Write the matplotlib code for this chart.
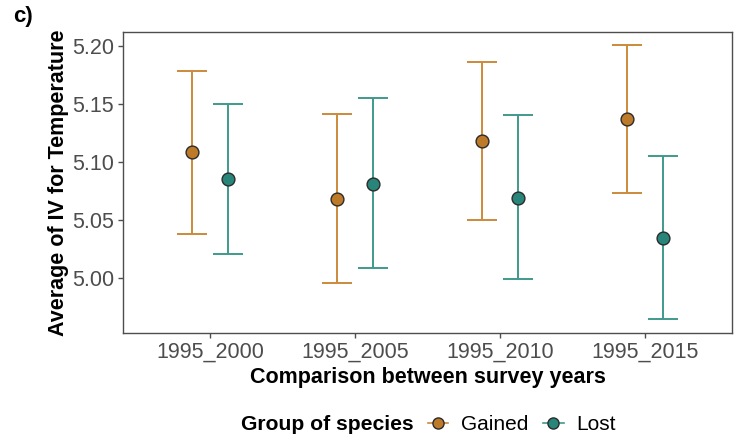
import matplotlib
matplotlib.use("Agg")
import matplotlib.pyplot as plt
from matplotlib.lines import Line2D
from matplotlib.offsetbox import HPacker
import numpy as np

plt.rcParams['font.family'] = ['Liberation Sans', 'DejaVu Sans']

categories = ["1995_2000", "1995_2005", "1995_2010", "1995_2015"]
groups = ["Gained", "Lost"]
gained_mean = [5.108, 5.068, 5.118, 5.137]
gained_low = [5.038, 4.995, 5.050, 5.073]
gained_high = [5.178, 5.141, 5.186, 5.201]
lost_mean = [5.085, 5.081, 5.069, 5.034]
lost_low = [5.020, 5.008, 4.999, 4.964]
lost_high = [5.150, 5.155, 5.140, 5.105]

line_colors = {"Gained": "#CC8A3C", "Lost": "#3F9A8C"}
fill_colors = {"Gained": "#BD7A28", "Lost": "#27857A"}

fig = plt.figure(figsize=(7.36, 4.45), dpi=100)
ax = fig.add_axes([0.1671, 0.2517, 0.8275, 0.6771])

x = np.arange(1, len(categories) + 1)
data = {
    "Gained": (gained_mean, gained_low, gained_high, -0.125),
    "Lost": (lost_mean, lost_low, lost_high, 0.125),
}
for g in groups:
    m, lo, hi, off = data[g]
    m = np.array(m); lo = np.array(lo); hi = np.array(hi)
    xs = x + off
    ax.errorbar(xs, m, yerr=[m - lo, hi - m], fmt='none', ecolor=line_colors[g],
                elinewidth=1.4, capsize=10.5, capthick=1.4, zorder=2)
    ax.scatter(xs, m, s=85, color=fill_colors[g], edgecolor="#2b2b2b",
               linewidth=1.0, zorder=3)

ax.set_xlim(0.4, 4.6)
ax.set_ylim(4.9523, 5.2121)
ax.set_xticks(x)
ax.set_xticklabels(categories)
ax.set_yticks([5.00, 5.05, 5.10, 5.15, 5.20])
ax.set_yticklabels(["5.00", "5.05", "5.10", "5.15", "5.20"])
ax.tick_params(axis='both', labelsize=15.5, colors="#4D4D4D", length=3.5, width=1.0,
               labelcolor="#4D4D4D", pad=3)
for s in ax.spines.values():
    s.set_color("#4D4D4D")
    s.set_linewidth(1.0)

ax.set_xlabel("Comparison between survey years", fontsize=15.5, fontweight='bold',
              labelpad=3)
ax.set_ylabel("Average of IV for Temperature", fontsize=15.5, fontweight='bold',
              labelpad=2)

fig.text(0.018, 0.962, "c)", fontsize=16, fontweight='bold', va='center', ha='left')

handles = [Line2D([0], [0], color=line_colors[g], lw=1.2, marker='o',
                  markersize=8, markerfacecolor=fill_colors[g],
                  markeredgecolor="#2b2b2b", markeredgewidth=1.0)
           for g in groups]
leg = fig.legend(handles, groups, loc='center', bbox_to_anchor=(0.582, 0.045),
                 ncol=2, frameon=False, fontsize=15, handlelength=1.0,
                 handletextpad=0.6, columnspacing=0.7,
                 title="Group of species", title_fontproperties={'weight': 'bold', 'size': 15.2})
title_box = leg._legend_title_box
entries = leg._legend_handle_box
leg._legend_box._children = [HPacker(pad=0, sep=10, children=[title_box, entries], align="center")]

fig.savefig("out.png", dpi=100)
